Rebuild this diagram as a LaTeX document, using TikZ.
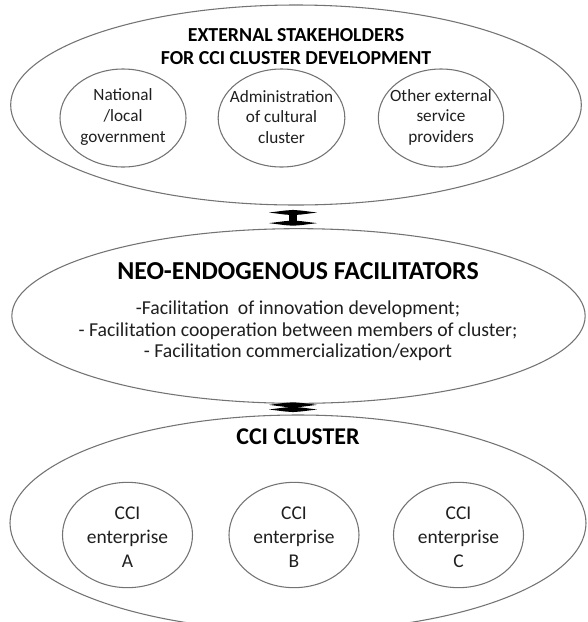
\documentclass[tikz,border=0pt]{standalone}
\usepackage{fontspec}
\setmainfont{Carlito}
\usetikzlibrary{shapes.geometric}
\begin{document}
\begin{tikzpicture}[x=0.75pt,y=-0.75pt,
  outer/.style={draw=black!55,line width=0.8pt,ellipse,inner sep=0pt},
  inner/.style={draw=black!55,line width=0.8pt,ellipse,inner sep=0pt},
  lbl/.style={align=center,text=black!88,inner sep=0pt},
  ttl/.style={align=center,text=black,inner sep=0pt},
  stem/.style={line width=5.5pt,black},
  hbar/.pic={\fill[black] (-24,0) -- (-8,-2) -- (0,-2.6) -- (8,-2) -- (24,0) -- (8,2) -- (0,2.6) -- (-8,2) -- cycle;}
]
\clip (0,0) rectangle (587,622);
\fill[white] (0,0) rectangle (587,622);
% top ellipse
\node[outer,minimum width=428pt,minimum height=150pt] (top) at (296,105) {};
\node[ttl,font=\bfseries\fontsize{14.9}{17.3}\selectfont] (ttop) at (296,47) {EXTERNAL STAKEHOLDERS\\FOR CCI CLUSTER DEVELOPMENT};
\node[inner,minimum width=94.5pt,minimum height=73.5pt] (c1) at (123,118) {};
\node[inner,minimum width=95pt,minimum height=73.5pt] (c2) at (281.5,118) {};
\node[inner,minimum width=94pt,minimum height=73.5pt] (c3) at (441,118) {};
\node[lbl,font=\fontsize{12.9}{15.4}\selectfont] (t1) at (123,117) {National\\/local\\government};
\node[lbl,font=\fontsize{12.9}{15.4}\selectfont] (t2) at (281.5,117) {Administration\\of cultural\\cluster};
\node[lbl,font=\fontsize{12.9}{15.4}\selectfont] (t3) at (441,117) {Other external\\service\\providers};
% middle ellipse
\node[outer,minimum width=430pt,minimum height=131pt] (mid) at (298.5,316) {};
\node[ttl,font=\bfseries\fontsize{19.4}{22}\selectfont] (tmid) at (298,271) {NEO-ENDOGENOUS FACILITATORS};
\node[lbl,font=\fontsize{14.8}{16}\selectfont] (lmid) at (298,331) {-Facilitation\ \ of innovation development;\\- Facilitation cooperation between members of cluster;\\- Facilitation commercialization/export};
% bottom ellipse
\node[outer,minimum width=432pt,minimum height=162pt] (bot) at (298,523) {};
\node[ttl,font=\bfseries\fontsize{18}{20}\selectfont] (tbot) at (298,437) {CCI CLUSTER};
\node[inner,minimum width=97.5pt,minimum height=79pt] (e1) at (127.5,535) {};
\node[inner,minimum width=97.5pt,minimum height=79pt] (e2) at (294,535) {};
\node[inner,minimum width=97.5pt,minimum height=79pt] (e3) at (458.5,535) {};
\node[lbl,font=\fontsize{14.6}{18}\selectfont] (u1) at (127.5,537) {CCI\\enterprise\\A};
\node[lbl,font=\fontsize{14.6}{18}\selectfont] (u2) at (294,537) {CCI\\enterprise\\B};
\node[lbl,font=\fontsize{14.6}{18}\selectfont] (u3) at (458.5,537) {CCI\\enterprise\\C};
% connectors
\path (top.south -| 293,0) ++(0,7) coordinate (a1);
\path (mid.north -| 293,0) ++(0,-5) coordinate (a2);
\path (mid.south -| 293,0) ++(0,1) coordinate (b1);
\path (bot.north -| 293,0) ++(0,-5) coordinate (b2);
\draw[stem] (a1) -- (a2);
\pic at (a1) {hbar};
\pic at (a2) {hbar};
\draw[stem] (b1) -- (b2);
\pic at (b1) {hbar};
\pic at (b2) {hbar};
\end{tikzpicture}
\end{document}
